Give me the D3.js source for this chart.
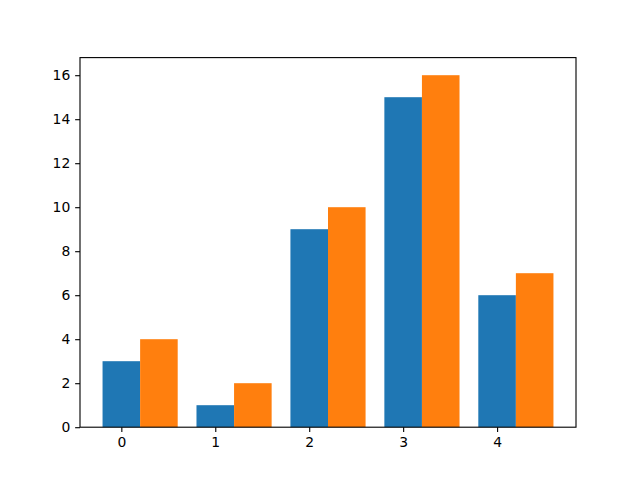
<!DOCTYPE html>
<html><head><meta charset="utf-8">
<script src="https://cdn.jsdelivr.net/npm/d3@7"></script>
<style>body{margin:0;background:#fff}svg{display:block}</style>
</head><body>
<script>
const categories = [0, 1, 2, 3, 4];
const seriesA = [3, 1, 9, 15, 6];
const seriesB = [4, 2, 10, 16, 7];
const yTicks = [0, 2, 4, 6, 8, 10, 12, 14, 16];

const W = 640, H = 480;
const L = 80, R = 576, T = 57.6, B = 427.2;
const svg = d3.select("body").append("svg").attr("width", W).attr("height", H);
svg.append("rect").attr("width", W).attr("height", H).attr("fill", "#fff");

const x = d3.scaleLinear().domain([-0.44, 4.84]).range([L, R]);
const y = d3.scaleLinear().domain([0, 16.8]).range([B, T]);
const bw = 0.4;

const g = svg.append("g");
g.selectAll(".a").data(categories).enter().append("rect")
  .attr("x", (d) => x(d - bw/2)).attr("width", (d) => x(d + bw/2) - x(d - bw/2))
  .attr("y", (d, i) => y(seriesA[i])).attr("height", (d, i) => y(0) - y(seriesA[i]))
  .attr("fill", "#1f77b4");
g.selectAll(".b").data(categories).enter().append("rect")
  .attr("x", (d) => x(d + bw/2)).attr("width", (d) => x(d + 3*bw/2) - x(d + bw/2))
  .attr("y", (d, i) => y(seriesB[i])).attr("height", (d, i) => y(0) - y(seriesB[i]))
  .attr("fill", "#ff7f0e");

const font = "DejaVu Sans";
const xa = svg.append("g").attr("transform", `translate(0,${B})`)
  .call(d3.axisBottom(x).tickValues(categories).tickFormat(d3.format("d")).tickSizeOuter(0).tickSize(4.86).tickPadding(4.86));
const ya = svg.append("g").attr("transform", `translate(${L},0)`)
  .call(d3.axisLeft(y).tickValues(yTicks).tickFormat(d3.format("d")).tickSizeOuter(0).tickSize(4.86).tickPadding(4.86));
[xa, ya].forEach(a => {
  a.select(".domain").remove();
  a.selectAll("line").attr("stroke", "#000").attr("stroke-width", 1.11);
  a.selectAll("text").attr("font-family", font).attr("font-size", "13.9px").attr("fill", "#000");
});
svg.append("rect").attr("x", L).attr("y", T).attr("width", R - L).attr("height", B - T)
  .attr("fill", "none").attr("stroke", "#000").attr("stroke-width", 1.11);
</script>
</body></html>
